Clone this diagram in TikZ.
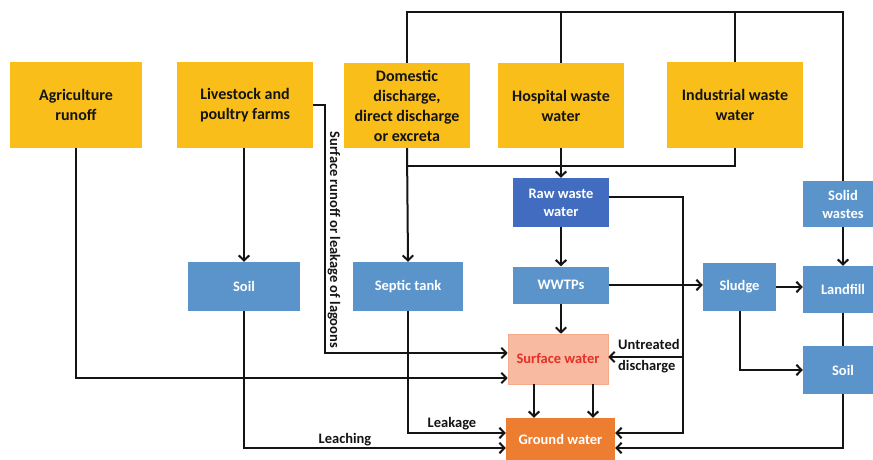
\documentclass[tikz,border=0pt]{standalone}
\usepackage{fontspec}
\setmainfont{Carlito}
\usetikzlibrary{arrows.meta,calc}
\definecolor{srcyellow}{RGB}{249,190,26}
\definecolor{boxblue}{RGB}{91,148,203}
\definecolor{rawblue}{RGB}{66,108,192}
\definecolor{surffill}{RGB}{248,186,160}
\definecolor{surfedge}{RGB}{244,170,140}
\definecolor{surftext}{RGB}{228,48,40}
\definecolor{gwfill}{RGB}{237,125,49}
\definecolor{inkdark}{RGB}{20,20,20}
\tikzset{
  srcbox/.style={fill=srcyellow, inner sep=0pt, align=center, text=inkdark,
    font=\bfseries\fontsize{16}{20}\selectfont},
  bluebox/.style={fill=boxblue, inner sep=0pt, align=center, text=white,
    font=\bfseries\fontsize{14.5}{18}\selectfont},
  lbl/.style={text=inkdark, inner sep=0pt, font=\bfseries\fontsize{14.5}{21}\selectfont},
  conn/.style={draw=inkdark, line width=2pt},
  arr/.style={conn, -{Straight Barb[length=5pt,width=10.5pt]}}
}
\begin{document}
\begin{tikzpicture}[x=1pt,y=-1pt]
\clip (0,0) rectangle (873,459);
\fill[white] (0,0) rectangle (873,459);

% sources
\node[srcbox, minimum width=132pt, minimum height=86pt] (agri) at (76,105) {Agriculture\\runoff};
\node[srcbox, minimum width=136pt, minimum height=86pt] (live) at (245,105) {Livestock and\\poultry farms};
\node[srcbox, minimum width=126pt, minimum height=85pt] (dom) at (407,105.5) {Domestic\\discharge,\\direct discharge\\or excreta};
\node[srcbox, minimum width=126pt, minimum height=85pt] (hosp) at (561,105.5) {Hospital waste\\water};
\node[srcbox, minimum width=136pt, minimum height=86pt] (ind) at (735,105) {Industrial waste\\water};

% intermediate stages
\node[bluebox, fill=rawblue, minimum width=96pt, minimum height=49pt] (raw) at (561,202.5) {Raw waste\\water};
\node[bluebox, minimum width=96pt, minimum height=37pt] (wwtp) at (561,285) {WWTPs};
\node[bluebox, minimum width=112pt, minimum height=49pt] (soilL) at (244,286.5) {Soil};
\node[bluebox, minimum width=110pt, minimum height=49pt] (septic) at (408,286.5) {Septic tank};
\node[bluebox, minimum width=73pt, minimum height=48pt] (sludge) at (739.5,287) {Sludge};
\node[bluebox, minimum width=80pt, minimum height=46pt] (solid) at (843,204) {Solid\\wastes};
\node[bluebox, minimum width=80pt, minimum height=47pt] (landfill) at (843,289.5) {Landfill};
\node[bluebox, minimum width=80pt, minimum height=48pt] (soilR) at (843,370) {Soil};

% receiving waters
\node[bluebox, fill=surffill, draw=surfedge, line width=0.6pt, text=surftext, minimum width=100pt, minimum height=50pt] (surf) at (558,359) {Surface water};
\node[bluebox, fill=gwfill, minimum width=109pt, minimum height=42pt] (ground) at (560.5,439) {Ground water};

% collector lines
\coordinate (bus) at (0,12);
\coordinate (mid) at (0,166);
\draw[conn] (dom.north) |- (bus -| solid.north) -- (solid.north);
\draw[conn] (hosp.north) -- (hosp.north |- bus);
\draw[conn] (ind.north) -- (ind.north |- bus);
\draw[conn] (ind.south) |- (dom.south |- mid);
\draw[arr] (hosp.south) -- (raw.north);
\draw[arr] (dom.south) -- (septic.north);

% treatment chain
\draw[arr] (raw.south) -- (wwtp.north);
\draw[arr] (wwtp.south) -- (wwtp.south |- surf.north);
\draw[arr] (wwtp.east) -- (wwtp.east -| sludge.west);
\draw[arr] (sludge.east) -- (sludge.east -| landfill.west);
\draw[arr] (solid.south) -- (landfill.north);
\draw[conn] (landfill.south) -- (soilR.north);
\draw[arr] (sludge.south) |- (soilR.west);
\draw[arr] (soilR.south) |- (ground.east |- 0,448);

% untreated discharge
\coordinate (ud) at (683,433);
\coordinate (ub) at (683,357);
\draw[arr] ([yshift=5.5pt]raw.east) -| (ud) -- (ud -| ground.east);
\draw[arr] (ub) -- (ub -| surf.east);
\node[lbl, anchor=west, align=left] (untr) at (618,356.5) {Untreated\\discharge};

% agriculture and livestock
\draw[arr] (agri.south) |- (surf.west |- 0,378);
\draw[arr] (soilL.north |- live.south) -- (soilL.north);
\coordinate (lg) at (325,353);
\draw[arr] (live.east) -| (lg) -- (lg -| surf.west);
\node[lbl, rotate=-90] (runoff) at (334,240) {Surface runoff or leakage of lagoons};

% soil and septic tank to ground water
\draw[arr] (soilL.south) |- (ground.west |- 0,448);
\node[lbl] (leach) at (345,440) {Leaching};
\draw[arr] (septic.south) |- (ground.west |- 0,433);
\node[lbl] (leak) at (452,424) {Leakage};

% surface water to ground water
\draw[arr] ([xshift=-24pt]surf.south) -- ([xshift=-24pt]surf.south |- ground.north);
\draw[arr] ([xshift=35pt]surf.south) -- ([xshift=35pt]surf.south |- ground.north);
\end{tikzpicture}
\end{document}
